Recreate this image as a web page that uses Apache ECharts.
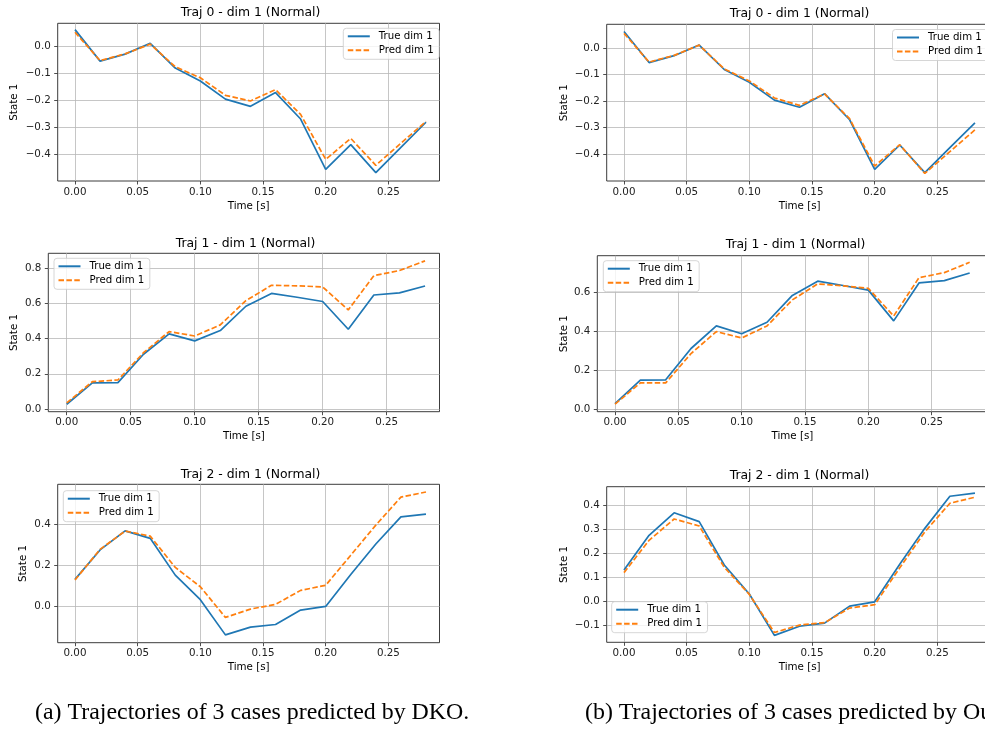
<!DOCTYPE html>
<html>
<head>
<meta charset="utf-8">
<script src="https://cdn.jsdelivr.net/npm/echarts@6/dist/echarts.min.js"></script>
<style>
  html, body { margin: 0; padding: 0; background: #ffffff; overflow: hidden; }
  #chart { width: 985px; height: 730px; }
</style>
</head>
<body>
<div id="chart"></div>
<script>
// Sample times (s)
const timeS = [0, 0.02, 0.04, 0.06, 0.08, 0.10, 0.12, 0.14, 0.16, 0.18, 0.20, 0.22, 0.24, 0.26, 0.28];

// Ground-truth state 1 for the three trajectories
const trueTraj0 = [0.062, -0.055, -0.029, 0.011, -0.081, -0.129, -0.196, -0.223, -0.172, -0.270, -0.457, -0.365, -0.469, -0.375, -0.282];
const trueTraj1 = [0.027, 0.148, 0.150, 0.311, 0.427, 0.387, 0.446, 0.584, 0.657, 0.635, 0.611, 0.453, 0.648, 0.660, 0.699];
const trueTraj2 = [0.131, 0.276, 0.370, 0.333, 0.152, 0.031, -0.142, -0.104, -0.091, -0.020, -0.002, 0.155, 0.305, 0.439, 0.452];

// DKO predictions
const predDKO0 = [0.052, -0.053, -0.028, 0.008, -0.076, -0.117, -0.182, -0.203, -0.161, -0.253, -0.420, -0.342, -0.442, -0.360, -0.279];
const predDKO1 = [0.035, 0.155, 0.165, 0.320, 0.440, 0.415, 0.478, 0.616, 0.703, 0.700, 0.694, 0.563, 0.758, 0.787, 0.842];
const predDKO2 = [0.128, 0.279, 0.369, 0.344, 0.190, 0.095, -0.056, -0.015, 0.008, 0.077, 0.102, 0.250, 0.398, 0.536, 0.561];

// Predictions of our model
const predOurs0 = [0.055, -0.053, -0.028, 0.011, -0.079, -0.124, -0.188, -0.216, -0.173, -0.266, -0.444, -0.364, -0.472, -0.390, -0.308];
const predOurs1 = [0.025, 0.134, 0.134, 0.285, 0.398, 0.365, 0.427, 0.561, 0.643, 0.633, 0.620, 0.478, 0.675, 0.701, 0.754];
const predOurs2 = [0.120, 0.255, 0.344, 0.315, 0.142, 0.029, -0.130, -0.099, -0.089, -0.028, -0.014, 0.140, 0.290, 0.410, 0.435];

// Tick values
const xTicks = [0, 0.05, 0.10, 0.15, 0.20, 0.25];
const yTicksTraj0 = [-0.4, -0.3, -0.2, -0.1, 0.0];
const yTicksTraj1DKO = [0.0, 0.2, 0.4, 0.6, 0.8];
const yTicksTraj2DKO = [0.0, 0.2, 0.4];
const yTicksTraj1Ours = [0.0, 0.2, 0.4, 0.6];
const yTicksTraj2Ours = [-0.1, 0.0, 0.1, 0.2, 0.3, 0.4];

// Labels
const panelTitles = ['Traj 0 - dim 1 (Normal)', 'Traj 1 - dim 1 (Normal)', 'Traj 2 - dim 1 (Normal)'];
const seriesNames = ['True dim 1', 'Pred dim 1'];
const xAxisName = 'Time [s]';
const yAxisName = 'State 1';
const captions = ['(a) Trajectories of 3 cases predicted by DKO.', '(b) Trajectories of 3 cases predicted by Ours.'];

const FONT = 'DejaVu Sans';
const BLUE = '#1f77b4';
const ORANGE = '#ff7f0e';

// Panel layout: grid rectangle, axis extents, label gaps, title and legend anchors
const panels = [
  { title: panelTitles[0], truth: trueTraj0, pred: predDKO0, yTicks: yTicksTraj0,
    grid: { left: 57.7, top: 23.3, width: 381.8, height: 157.7 },
    x: [-0.0138, 0.2908], y: [-0.5002, 0.0854], yGap: 38.4,
    titlePos: [250.5, 12.7], legendPos: [343.3, 28.3] },
  { title: panelTitles[1], truth: trueTraj1, pred: predDKO1, yTicks: yTicksTraj1DKO,
    grid: { left: 48.3, top: 253.3, width: 391.2, height: 158.4 },
    x: [-0.0144, 0.2913], y: [-0.0154, 0.885], yGap: 29,
    titlePos: [245.5, 244], legendPos: [54, 258.3] },
  { title: panelTitles[2], truth: trueTraj2, pred: predDKO2, yTicks: yTicksTraj2DKO,
    grid: { left: 57.7, top: 484.3, width: 381.8, height: 158.4 },
    x: [-0.0138, 0.2908], y: [-0.1805, 0.599], yGap: 29.4,
    titlePos: [250.5, 475], legendPos: [63.3, 490.7] },
  { title: panelTitles[0], truth: trueTraj0, pred: predOurs0, yTicks: yTicksTraj0,
    grid: { left: 606.7, top: 24.3, width: 385.8, height: 156.7 },
    x: [-0.0138, 0.294], y: [-0.5004, 0.089], yGap: 37.4,
    titlePos: [799.5, 13.3], legendPos: [892.5, 29.5] },
  { title: panelTitles[1], truth: trueTraj1, pred: predOurs1, yTicks: yTicksTraj1Ours,
    grid: { left: 597.3, top: 255.7, width: 390.1, height: 156 },
    x: [-0.014, 0.294], y: [-0.0139, 0.788], yGap: 28,
    titlePos: [795.5, 245], legendPos: [603.3, 260.7] },
  { title: panelTitles[2], truth: trueTraj2, pred: predOurs2, yTicks: yTicksTraj2Ours,
    grid: { left: 606.7, top: 486.7, width: 385.8, height: 155.6 },
    x: [-0.0138, 0.294], y: [-0.171, 0.479], yGap: 37.4,
    titlePos: [799.5, 475.7], legendPos: [611.7, 601.7] }
];

const fmtX = v => v.toFixed(2);
const fmtY = v => {
  const s = Math.abs(v).toFixed(1);
  return (v < -1e-9 ? '\u2212' : '') + s;
};

const tickColor = '#222222';
const gridColor = '#b8b8b8';

const option = {
  animation: false,
  backgroundColor: '#ffffff',
  textStyle: { fontFamily: FONT },
  title: [],
  legend: [],
  grid: [],
  xAxis: [],
  yAxis: [],
  series: []
};

panels.forEach((p, i) => {
  option.grid.push(Object.assign({
    show: true, borderColor: '#262626', borderWidth: 0.9,
    backgroundColor: 'transparent', containLabel: false, outerBoundsMode: 'none'
  }, p.grid));

  option.xAxis.push({
    type: 'value', gridIndex: i, min: p.x[0], max: p.x[1],
    name: xAxisName, nameLocation: 'middle', nameGap: 20,
    nameTextStyle: { fontFamily: FONT, fontSize: 10.3, color: '#000' },
    axisLine: { show: false, onZero: false },
    axisTick: { show: true, inside: false, length: 3.5, customValues: xTicks,
                lineStyle: { color: tickColor, width: 0.8 } },
    axisLabel: { customValues: xTicks, formatter: fmtX, margin: 6,
                 fontFamily: FONT, fontSize: 10.3, color: tickColor },
    splitLine: { show: true, lineStyle: { color: gridColor, width: 0.8 } }
  });

  option.yAxis.push({
    type: 'value', gridIndex: i, min: p.y[0], max: p.y[1],
    name: yAxisName, nameLocation: 'middle', nameGap: p.yGap,
    nameTextStyle: { fontFamily: FONT, fontSize: 10.3, color: '#000' },
    axisLine: { show: false, onZero: false },
    axisTick: { show: true, inside: false, length: 3.5, customValues: p.yTicks,
                lineStyle: { color: tickColor, width: 0.8 } },
    axisLabel: { customValues: p.yTicks, formatter: fmtY, margin: 7,
                 fontFamily: FONT, fontSize: 10.3, color: tickColor },
    splitLine: { show: true, lineStyle: { color: gridColor, width: 0.8 } }
  });

  option.series.push({
    type: 'line', name: seriesNames[0], xAxisIndex: i, yAxisIndex: i,
    data: timeS.map((t, k) => [t, p.truth[k]]),
    symbol: 'none', showSymbol: false, z: 3,
    lineStyle: { color: BLUE, width: 1.7 }, itemStyle: { color: BLUE }
  });
  option.series.push({
    type: 'line', name: seriesNames[1], xAxisIndex: i, yAxisIndex: i,
    data: timeS.map((t, k) => [t, p.pred[k]]),
    symbol: 'none', showSymbol: false, z: 4,
    lineStyle: { color: ORANGE, width: 1.7, type: [5.5, 2.4] }, itemStyle: { color: ORANGE }
  });

  option.title.push({
    text: p.title, left: p.titlePos[0], top: p.titlePos[1],
    textAlign: 'center', textVerticalAlign: 'middle', padding: 0,
    textStyle: { fontFamily: FONT, fontSize: 12.4, fontWeight: 'normal', color: '#000' }
  });

  // Legend keys show only the line sample (no marker)
  option.legend.push({
    orient: 'vertical', left: p.legendPos[0], top: p.legendPos[1],
    itemWidth: 22, itemHeight: 12, itemGap: 4, padding: [3, 5.5, 4, 3.5],
    backgroundColor: 'rgba(255,255,255,0.8)', borderColor: '#cccccc',
    borderWidth: 0.8, borderRadius: 3, selectedMode: false,
    itemStyle: { color: 'rgba(0,0,0,0)', borderWidth: 0, opacity: 0 },
    textStyle: { fontFamily: FONT, fontSize: 10.2, color: '#000', padding: [0, 0, 0, 4] },
    data: seriesNames
  });
});

// Subfigure captions
[[35, captions[0]], [585, captions[1]]].forEach(([x, text]) => {
  option.title.push({
    text: text, left: x, top: 713,
    textAlign: 'left', textVerticalAlign: 'middle', padding: 0,
    textStyle: { fontFamily: 'Liberation Serif', fontSize: 23.9, fontWeight: 'normal', color: '#000' }
  });
});

const chart = echarts.init(document.getElementById('chart'), null, { renderer: 'canvas' });
chart.setOption(option);
</script>
</body>
</html>
